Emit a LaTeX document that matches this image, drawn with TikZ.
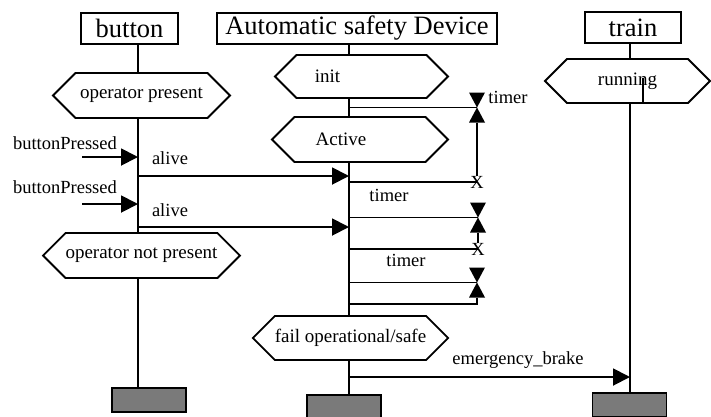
\documentclass[tikz,border=0pt]{standalone}
\usepackage{fontspec}
\setmainfont{Liberation Serif}
\usetikzlibrary{arrows.meta,shapes.symbols}
\definecolor{boxGrey}{HTML}{7A7A7A}
\tikzset{
  head/.style={draw, line width=2pt, inner sep=0pt, minimum height=31pt, font=\fontsize{26.5}{30}\selectfont},
  state/.style={draw, line width=1.8pt, shape=signal, signal to=west and east, signal pointer angle=90, inner sep=0pt, minimum height=44pt, font=\fontsize{19}{22}\selectfont},
  statetext/.style={font=\fontsize{19}{22}\selectfont, inner sep=0pt},
  endbox/.style={draw, fill=boxGrey, line width=1.8pt, minimum width=74pt, minimum height=24pt, inner sep=0pt},
  msg/.style={font=\fontsize{18.5}{21}\selectfont, inner sep=0pt},
  life/.style={line width=1.9pt},
  send/.style={line width=1.9pt, -{Triangle[length=17pt,width=17pt]}}
}
\newcommand{\sandglass}[1]{\fill ([shift={(-8,-15)}]#1) -- ([shift={(8,-15)}]#1) -- ([shift={(-8,15)}]#1) -- ([shift={(8,15)}]#1) -- cycle;}

\begin{document}
\begin{tikzpicture}[x=1pt,y=-1pt]
\useasboundingbox (0,0) rectangle (711,416);
\node[head, minimum width=97pt] (btn) at (129.5,28.5) {button};
\node[head, minimum width=280pt] (asd) at (357,28) {Automatic safety Device};
\node[head, minimum width=96pt] (trn) at (633,27.5) {train};
\coordinate (btnL) at (138,0);
\coordinate (asdL) at (349,0);
\coordinate (trnL) at (630,0);

\node[state, minimum width=177pt, minimum height=45pt] (opp) at (141.5,95.5) {operator present};
\node[state, minimum width=177pt, minimum height=45pt] (onp) at (141.5,255.5) {operator not present};
\node[state, minimum width=173pt, minimum height=43pt, label={[statetext, xshift=-34pt]center:init}] (init) at (361.5,76.5) {};
\node[state, minimum width=176pt, minimum height=45pt, label={[statetext, xshift=-19pt]center:Active}] (act) at (360,139.5) {};
\node[state, minimum width=165pt] (run) at (627.5,81) {running};
\node[state, minimum width=177pt] (fail) at (350.5,338) {fail operational/safe};

\node[endbox] (bb1) at (149,400) {};
\node[endbox] (bb2) at (344,407) {};
\node[endbox] (bb3) at (629.5,405) {};

\draw[life] (btnL |- btn.south) -- (btnL |- opp.north);
\draw[life] (btnL |- opp.south) -- (btnL |- onp.north);
\draw[life] (btnL |- onp.south) -- (btnL |- bb1.north);
\draw[life] (asdL |- asd.south) -- (asdL |- init.north);
\draw[life] (asdL |- init.south) -- (asdL |- act.north);
\draw[life] (asdL |- act.south) -- (asdL |- fail.north);
\draw[life] (asdL |- fail.south) -- (asdL |- bb2.north);
\draw[life] (trnL |- trn.south) -- (trnL |- run.north);
\draw[life] (trnL |- run.south) -- (trnL |- bb3.north);
\draw[life] (643,78) -- (643,103);

\coordinate (bp1) at (82,157);
\draw[send] (bp1) -- (btnL |- bp1);
\node[msg] (bp1t) at (65,143) {buttonPressed};
\coordinate (bp2) at (82,204);
\draw[send] (bp2) -- (btnL |- bp2);
\node[msg] (bp2t) at (65,187) {buttonPressed};
\coordinate (al1) at (138,176);
\draw[send] (al1) -- (asdL |- al1);
\node[msg] (al1t) at (170,158) {alive};
\coordinate (al2) at (138,227);
\draw[send] (al2) -- (asdL |- al2);
\node[msg] (al2t) at (170,210) {alive};

\coordinate (tg1) at (477,107.5);
\sandglass{tg1}
\node[msg] (tm1) at (508,97) {timer};
\node[msg] (x1) at (477,182) {X};
\draw[life] (asdL |- tg1) -- (tg1);
\draw[life] ([yshift=-15pt]tg1) -- (x1.north);
\draw[life] (asdL |- x1) -- (x1.center);
\node[msg] (tm2) at (389,195) {timer};

\coordinate (tg2) at (478,217.5);
\sandglass{tg2}
\node[msg] (x2) at (478,249) {X};
\draw[life] (asdL |- tg2) -- (tg2);
\draw[life] ([yshift=-15pt]tg2) -- (x2.north);
\draw[life] (asdL |- x2) -- (x2.center);
\node[msg] (tm3) at (406,260) {timer};

\coordinate (tg3) at (477,282.5);
\sandglass{tg3}
\coordinate (tg3e) at (477,304);
\draw[life] (asdL |- tg3) -- (tg3);
\draw[life] ([yshift=-15pt]tg3) -- (tg3e) -- (asdL |- tg3e);

\coordinate (eb) at (349,377);
\draw[send] (eb) -- (trnL |- eb);
\node[msg] (ebt) at (518,360) {emergency\_brake};
\end{tikzpicture}
\end{document}
